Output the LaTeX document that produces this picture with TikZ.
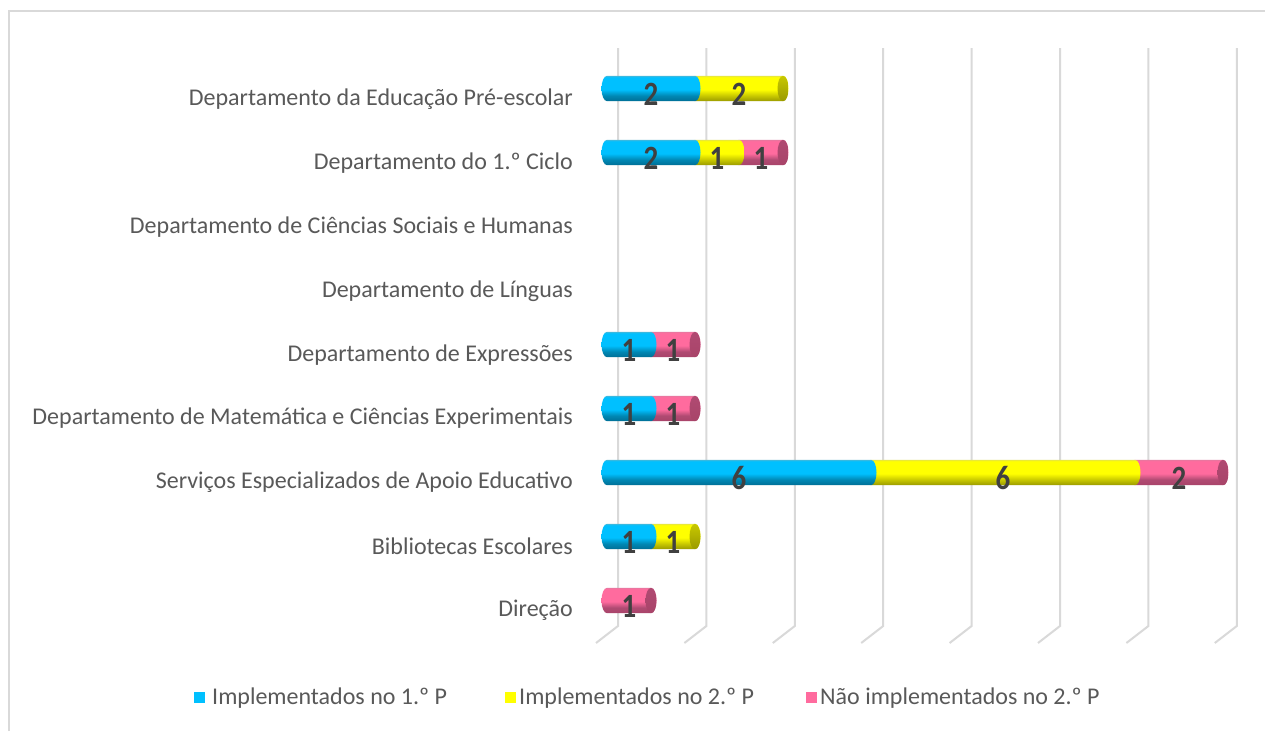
\documentclass[tikz,border=0pt]{standalone}
\usepackage{fontspec}
\setmainfont{Carlito}
\definecolor{frameC}{HTML}{D9D9D9}
\definecolor{gridC}{HTML}{D9D9D9}
\definecolor{txtC}{HTML}{595959}
\definecolor{numC}{HTML}{404040}
\definecolor{blueT}{HTML}{40B8DC}
\definecolor{blueM}{HTML}{00C0FF}
\definecolor{blueB}{HTML}{006F96}
\definecolor{blueE}{HTML}{0088B4}
\definecolor{yelT}{HTML}{E6E640}
\definecolor{yelM}{HTML}{FFFF00}
\definecolor{yelB}{HTML}{9A9A00}
\definecolor{yelE}{HTML}{C8C800}
\definecolor{pinkT}{HTML}{E8779F}
\definecolor{pinkM}{HTML}{FF6B9E}
\definecolor{pinkB}{HTML}{A84469}
\definecolor{pinkE}{HTML}{B04A72}
\pgfdeclareverticalshading{cylblue}{100bp}{color(0bp)=(blueB); color(25bp)=(blueB); color(36bp)=(blueE); color(48bp)=(blueM); color(72bp)=(blueM); color(75bp)=(blueT); color(100bp)=(blueT)}
\pgfdeclareverticalshading{cylyel}{100bp}{color(0bp)=(yelB); color(25bp)=(yelB); color(36bp)=(yelE); color(48bp)=(yelM); color(72bp)=(yelM); color(75bp)=(yelT); color(100bp)=(yelT)}
\pgfdeclareverticalshading{cylpink}{100bp}{color(0bp)=(pinkB); color(25bp)=(pinkB); color(36bp)=(pinkE); color(48bp)=(pinkM); color(72bp)=(pinkM); color(75bp)=(pinkT); color(100bp)=(pinkT)}
\pgfdeclareverticalshading{capblue}{100bp}{color(0bp)=(blueB); color(25bp)=(blueB); color(75bp)=(blueE); color(100bp)=(blueE)}
\pgfdeclareverticalshading{capyel}{100bp}{color(0bp)=(yelB); color(25bp)=(yelB); color(75bp)=(yelE); color(100bp)=(yelE)}
\pgfdeclareverticalshading{cappink}{100bp}{color(0bp)=(pinkB); color(25bp)=(pinkB); color(75bp)=(pinkE); color(100bp)=(pinkE)}
\tikzset{
  frameline/.style={draw=frameC, line width=1.5pt},
  gridline/.style={draw=gridC, line width=2pt},
  catlabel/.style={anchor=east, text=txtC, font=\fontsize{24}{28}\selectfont, inner sep=0pt},
  numlabel/.style={text=numC, font=\fontsize{34}{38}\selectfont\bfseries, inner sep=0pt},
  legtext/.style={anchor=west, text=txtC, font=\fontsize{24}{28}\selectfont, inner sep=0pt},
  segblue/.style={shading=cylblue},
  segyel/.style={shading=cylyel},
  segpink/.style={shading=cylpink},
}
% #1 left x, #2 right x, #3 center y, #4 style
\newcommand{\cylseg}[4]{%
  \path[#4] (#1,#3-12.7) -- (#2,#3-12.7)
    .. controls (#2+3.04,#3-12.7) and (#2+5.5,#3-7.01) .. (#2+5.5,#3)
    .. controls (#2+5.5,#3+7.01) and (#2+3.04,#3+12.7) .. (#2,#3+12.7)
    -- (#1,#3+12.7)
    .. controls (#1-3.04,#3+12.7) and (#1-5.5,#3+7.01) .. (#1-5.5,#3)
    .. controls (#1-5.5,#3-7.01) and (#1-3.04,#3-12.7) .. (#1,#3-12.7) -- cycle;}
\newcommand{\cylcap}[3]{%
  \path[shading=#3] (#1,#2) ellipse[x radius=5.5,y radius=12.7];}
\newcommand{\nb}[1]{\scalebox{0.85}[1]{#1}}
\begin{document}
\begin{tikzpicture}[x=1pt,y=-1pt]
\useasboundingbox (0,0) rectangle (1265,731);
\fill[white] (0,0) rectangle (1265,731);
\draw[frameline] (9,731) -- (9,11) -- (1265,11);
% gridlines
\foreach \i in {0,...,7}{
  \draw[gridline] (618+88.4*\i,48) -- (618+88.4*\i,626) -- (596+88.4*\i,643);
}
% category labels
\node[catlabel] (c0) at (573,99.5) {Departamento da Educação Pré-escolar};
\node[catlabel] (c1) at (573,163.5) {Departamento do 1.º Ciclo};
\node[catlabel] (c2) at (573,227.5) {Departamento de Ciências Sociais e Humanas};
\node[catlabel] (c3) at (573,291) {Departamento de Línguas};
\node[catlabel] (c4) at (573,355) {Departamento de Expressões};
\node[catlabel] (c5) at (573,418.5) {Departamento de Matemática e Ciências Experimentais};
\node[catlabel] (c6) at (573,482.5) {Serviços Especializados de Apoio Educativo};
\node[catlabel] (c7) at (573,546.5) {Bibliotecas Escolares};
\node[catlabel] (c8) at (573,610) {Direção};
\def\xs{607}
\def\u{44.0}
% row 0: 2 blue, 2 yellow
\cylseg{\xs+2*\u}{\xs+4*\u}{88.5}{segyel}\cylcap{\xs+4*\u}{88.5}{capyel}
\cylseg{\xs}{\xs+2*\u}{88.5}{segblue}
\node[numlabel] (n00) at (\xs+1*\u,94) {\nb{2}};
\node[numlabel] (n01) at (\xs+3*\u,94) {\nb{2}};
% row 1: 2 blue, 1 yellow, 1 pink
\cylseg{\xs+3*\u}{\xs+4*\u}{152.5}{segpink}\cylcap{\xs+4*\u}{152.5}{cappink}
\cylseg{\xs+2*\u}{\xs+3*\u}{152.5}{segyel}
\cylseg{\xs}{\xs+2*\u}{152.5}{segblue}
\node[numlabel] (n10) at (\xs+1*\u,158) {\nb{2}};
\node[numlabel] (n11) at (\xs+2.5*\u,158) {\nb{1}};
\node[numlabel] (n12) at (\xs+3.5*\u,158) {\nb{1}};
% row 4: 1 blue, 1 pink
\cylseg{\xs+1*\u}{\xs+2*\u}{344.5}{segpink}\cylcap{\xs+2*\u}{344.5}{cappink}
\cylseg{\xs}{\xs+1*\u}{344.5}{segblue}
\node[numlabel] (n40) at (\xs+0.5*\u,350) {\nb{1}};
\node[numlabel] (n41) at (\xs+1.5*\u,350) {\nb{1}};
% row 5: 1 blue, 1 pink
\cylseg{\xs+1*\u}{\xs+2*\u}{408.5}{segpink}\cylcap{\xs+2*\u}{408.5}{cappink}
\cylseg{\xs}{\xs+1*\u}{408.5}{segblue}
\node[numlabel] (n50) at (\xs+0.5*\u,414) {\nb{1}};
\node[numlabel] (n51) at (\xs+1.5*\u,414) {\nb{1}};
% row 6: 6 blue, 6 yellow, 2 pink
\cylseg{\xs+12*\u}{\xs+14*\u}{472.5}{segpink}\cylcap{\xs+14*\u}{472.5}{cappink}
\cylseg{\xs+6*\u}{\xs+12*\u}{472.5}{segyel}
\cylseg{\xs}{\xs+6*\u}{472.5}{segblue}
\node[numlabel] (n60) at (\xs+3*\u,478) {\nb{6}};
\node[numlabel] (n61) at (\xs+9*\u,478) {\nb{6}};
\node[numlabel] (n62) at (\xs+13*\u,478) {\nb{2}};
% row 7: 1 blue, 1 yellow
\cylseg{\xs+1*\u}{\xs+2*\u}{536.5}{segyel}\cylcap{\xs+2*\u}{536.5}{capyel}
\cylseg{\xs}{\xs+1*\u}{536.5}{segblue}
\node[numlabel] (n70) at (\xs+0.5*\u,542) {\nb{1}};
\node[numlabel] (n71) at (\xs+1.5*\u,542) {\nb{1}};
% row 8: 1 pink
\cylseg{\xs}{\xs+1*\u}{600.5}{segpink}\cylcap{\xs+1*\u}{600.5}{cappink}
\node[numlabel] (n80) at (\xs+0.5*\u,606) {\nb{1}};
% legend
\fill[blueM] (194,692) rectangle (205,703);
\node[legtext] (l1) at (212,698) {Implementados no 1.º P};
\fill[yelM] (505,692) rectangle (516,703);
\node[legtext] (l2) at (519,698) {Implementados no 2.º P};
\fill[pinkM] (806,692) rectangle (817,703);
\node[legtext] (l3) at (820,698) {Não implementados no 2.º P};
\end{tikzpicture}
\end{document}
